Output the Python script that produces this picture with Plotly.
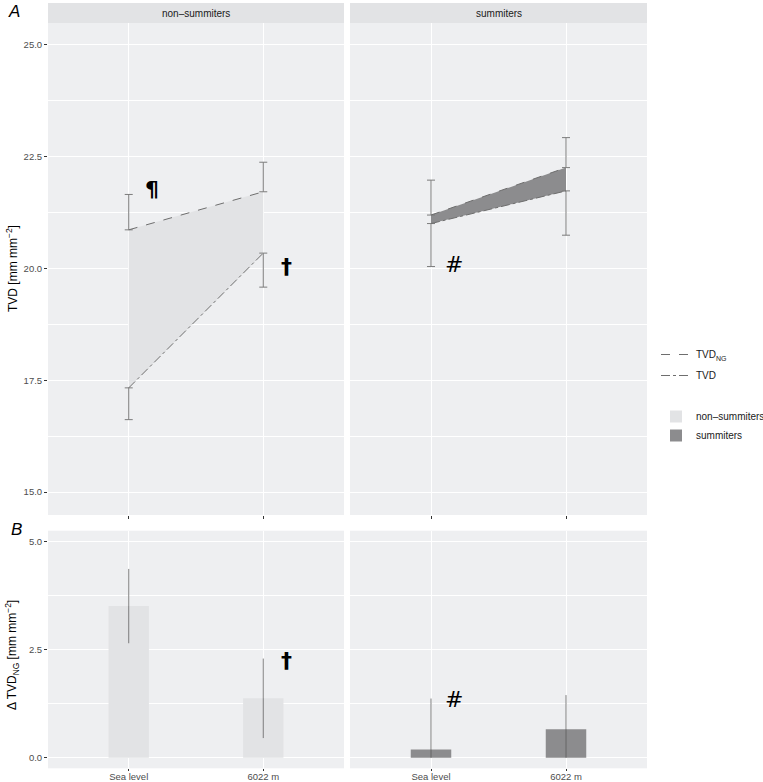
import plotly.graph_objects as go

# ---------------- data ----------------
categories = ["Sea level", "6022 m"]
groups = ["non–summiters", "summiters"]

# Panel A: TVD_NG (dashed, upper error) and TVD (dot-dash, lower error)
tvd_ng_non = [20.86, 21.71]
tvd_ng_non_sd = [0.79, 0.66]
tvd_non = [17.33, 20.34]
tvd_non_sd = [0.71, 0.76]
tvd_ng_sum = [21.19, 22.25]
tvd_ng_sum_sd = [0.78, 0.67]
tvd_sum = [21.00, 21.73]
tvd_sum_sd = [0.96, 0.99]

# Panel B: delta TVD_NG bars
dtvd_non = [3.51, 1.375]
dtvd_non_sd = [0.86, 0.92]
dtvd_sum = [0.19, 0.66]
dtvd_sum_sd = [1.18, 0.79]

# significance marks: (text, panel, category, y value, bold)
marks = [
    ("¶", "A_non", "Sea level", 21.75, True),
    ("†", "A_non", "6022 m", 20.04, True),
    ("#", "A_sum", "Sea level", 20.09, False),
    ("†", "B_non", "6022 m", 2.24, True),
    ("#", "B_sum", "Sea level", 1.35, False),
]

# ---------------- style ----------------
W, H = 763, 782
BG = "#eeeff1"
STRIP = "#e2e3e5"
FILL_NON = "#e2e3e5"
FILL_SUM = "#8c8c8e"
LINE = "#6e6e6e"
ERR = "#7c7c7c"
FONT = "Liberation Sans, Arial, sans-serif"

def px_x(p):
    return p / W

def px_y(p):
    return (H - p) / H

xL = [px_x(48), px_x(344)]
xR = [px_x(350), px_x(647)]
yT = [px_y(515), px_y(23)]
yB = [px_y(768.3), px_y(530.7)]

fig = go.Figure()

def ribbon(xa, ya, lower, upper, color):
    fig.add_trace(go.Scatter(x=categories, y=lower, mode="lines", line=dict(width=0),
                             xaxis=xa, yaxis=ya, showlegend=False, hoverinfo="skip"))
    fig.add_trace(go.Scatter(x=categories, y=upper, mode="lines", line=dict(width=0),
                             fill="tonexty", fillcolor=color,
                             xaxis=xa, yaxis=ya, showlegend=False, hoverinfo="skip"))

def lines(xa, ya, ng, ng_sd, tv, tv_sd, show):
    fig.add_trace(go.Scatter(
        x=categories, y=ng, mode="lines", name="TVD<sub>NG</sub>",
        line=dict(color=LINE, width=1, dash="dash"),
        error_y=dict(type="data", symmetric=False, array=ng_sd, arrayminus=[0] * len(ng),
                     color=ERR, thickness=1, width=4),
        xaxis=xa, yaxis=ya, showlegend=show, legend="legend", legendgroup="ng"))
    fig.add_trace(go.Scatter(
        x=categories, y=tv, mode="lines", name="TVD",
        line=dict(color=LINE, width=1, dash="dashdot"),
        error_y=dict(type="data", symmetric=False, array=[0] * len(tv), arrayminus=tv_sd,
                     color=ERR, thickness=1, width=4),
        xaxis=xa, yaxis=ya, showlegend=show, legend="legend", legendgroup="tv"))

ribbon("x", "y", tvd_non, tvd_ng_non, FILL_NON)
ribbon("x2", "y2", tvd_sum, tvd_ng_sum, FILL_SUM)
lines("x", "y", tvd_ng_non, tvd_ng_non_sd, tvd_non, tvd_non_sd, True)
lines("x2", "y2", tvd_ng_sum, tvd_ng_sum_sd, tvd_sum, tvd_sum_sd, False)

def bars(xa, ya, vals, sd, color, name):
    fig.add_trace(go.Bar(
        x=categories, y=vals, width=0.3, marker=dict(color=color, line=dict(width=0)),
        name=name, legend="legend2",
        error_y=dict(type="data", symmetric=False, array=sd,
                     arrayminus=[min(s, v) for s, v in zip(sd, vals)],
                     color="rgba(90,90,90,0.75)", thickness=1, width=0),
        xaxis=xa, yaxis=ya, showlegend=True))

bars("x3", "y3", dtvd_non, dtvd_non_sd, FILL_NON, groups[0])
bars("x4", "y4", dtvd_sum, dtvd_sum_sd, FILL_SUM, groups[1])

# ---------------- axes ----------------
tickfont = dict(family=FONT, size=9.5, color="#4d4d4d")
common_x = dict(type="category", categoryorder="array", categoryarray=categories,
                range=[-0.6, 1.6], showgrid=True, gridcolor="white", gridwidth=1.2,
                zeroline=False, showline=False, ticks="outside", ticklen=3,
                tickcolor="#333333", tickwidth=1, tickfont=tickfont, fixedrange=True)
common_y = dict(showgrid=True, gridcolor="white", gridwidth=1.2, zeroline=False,
                showline=False, tickfont=tickfont, tickformat=".1f", fixedrange=True)

fig.update_layout(
    xaxis=dict(common_x, domain=xL, anchor="y", showticklabels=False),
    xaxis2=dict(common_x, domain=xR, anchor="y2", showticklabels=False),
    xaxis3=dict(common_x, domain=xL, anchor="y3", ticklen=2, ticklabelstandoff=-3),
    xaxis4=dict(common_x, domain=xR, anchor="y4", ticklen=2, ticklabelstandoff=-3),
    yaxis=dict(common_y, domain=yT, anchor="x", range=[14.49, 25.48], tick0=0, dtick=2.5,
               ticks="outside", ticklen=3, tickcolor="#333333",
               minor=dict(tick0=0, dtick=1.25, showgrid=True, gridcolor="white", gridwidth=0.6)),
    yaxis2=dict(common_y, domain=yT, anchor="x2", range=[14.49, 25.48], tick0=0, dtick=2.5,
                showticklabels=False, ticks="",
                minor=dict(tick0=0, dtick=1.25, showgrid=True, gridcolor="white", gridwidth=0.6)),
    yaxis3=dict(common_y, domain=yB, anchor="x3", range=[-0.245, 5.255], tick0=0, dtick=2.5,
                ticks="outside", ticklen=3, tickcolor="#333333",
                minor=dict(tick0=0, dtick=1.25, showgrid=True, gridcolor="white", gridwidth=0.6)),
    yaxis4=dict(common_y, domain=yB, anchor="x4", range=[-0.245, 5.255], tick0=0, dtick=2.5,
                showticklabels=False, ticks="",
                minor=dict(tick0=0, dtick=1.25, showgrid=True, gridcolor="white", gridwidth=0.6)),
)

# ---------------- strips / labels ----------------
shapes = []
annotations = []
for dom, label in [(xL, groups[0]), (xR, groups[1])]:
    shapes.append(dict(type="rect", xref="paper", yref="paper", x0=dom[0], x1=dom[1],
                       y0=px_y(23), y1=px_y(3), fillcolor=STRIP, line=dict(width=0), layer="below"))
    annotations.append(dict(xref="paper", yref="paper", x=(dom[0] + dom[1]) / 2, y=px_y(13),
                            text=label, showarrow=False, xanchor="center", yanchor="middle",
                            font=dict(family=FONT, size=10, color="#1a1a1a")))

annotations.append(dict(xref="paper", yref="paper", x=px_x(6), y=px_y(0), text="<i>A</i>",
                        showarrow=False, xanchor="left", yanchor="top",
                        font=dict(family=FONT, size=17, color="black")))
annotations.append(dict(xref="paper", yref="paper", x=px_x(9), y=px_y(518), text="<i>B</i>",
                        showarrow=False, xanchor="left", yanchor="top",
                        font=dict(family=FONT, size=17, color="black")))
annotations.append(dict(xref="paper", yref="paper", x=px_x(12), y=px_y(269),
                        text="TVD [mm mm<sup>−2</sup>]", textangle=-90, showarrow=False,
                        xanchor="center", yanchor="middle",
                        font=dict(family=FONT, size=12, color="black")))
annotations.append(dict(xref="paper", yref="paper", x=px_x(12), y=px_y(655),
                        text="Δ TVD<sub>NG</sub> [mm mm<sup>−2</sup>]", textangle=-90,
                        showarrow=False, xanchor="center", yanchor="middle",
                        font=dict(family=FONT, size=12, color="black")))

axes_of = {"A_non": ("x", "y"), "A_sum": ("x2", "y2"), "B_non": ("x3", "y3"), "B_sum": ("x4", "y4")}
for text, panel, cat, yv, bold in marks:
    xa, ya = axes_of[panel]
    annotations.append(dict(xref=xa, yref=ya, x=cat, y=yv,
                            text=f"<b>{text}</b>" if bold else text, showarrow=False,
                            xshift=23, xanchor="center", yanchor="middle",
                            font=dict(family="DejaVu Sans, sans-serif", size=22, color="black")))

fig.update_layout(
    width=W, height=H, autosize=False, margin=dict(l=0, r=0, t=0, b=0, autoexpand=False),
    paper_bgcolor="white", plot_bgcolor=BG,
    shapes=shapes, annotations=annotations, barmode="overlay",
    font=dict(family=FONT, color="#333333"),
    legend=dict(x=px_x(656), y=px_y(340), xanchor="left", yanchor="top",
                bgcolor="rgba(0,0,0,0)", font=dict(family=FONT, size=10, color="#1a1a1a"),
                itemwidth=30, tracegroupgap=2),
    legend2=dict(x=px_x(656), y=px_y(402), xanchor="left", yanchor="top",
                 bgcolor="rgba(0,0,0,0)", font=dict(family=FONT, size=10, color="#1a1a1a"),
                 itemwidth=30, tracegroupgap=2),
    showlegend=True,
)

fig.write_html(
    "out.html",
    config={"displayModeBar": False, "responsive": False},
    post_script=("document.body.style.margin='0';document.body.style.overflow='hidden';"
                 "Plotly.relayout('{plot_id}', {width: 763, height: 782});"),
)
